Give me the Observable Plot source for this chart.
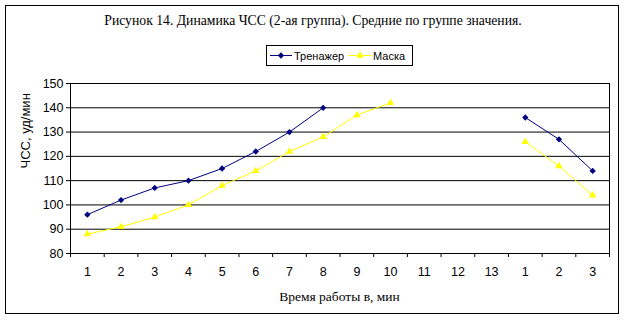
<!DOCTYPE html>
<html><head><meta charset="utf-8">
<script src="https://cdn.jsdelivr.net/npm/d3@7"></script>
<script src="https://cdn.jsdelivr.net/npm/@observablehq/plot@0.6"></script>
<style>
body{margin:0;background:#fff;}
#wrap{position:relative;width:624px;height:319px;overflow:hidden;background:#fff;}
#frame{position:absolute;left:5px;top:5px;width:614px;height:309px;border:1px solid #000;box-sizing:border-box;}
#title{position:absolute;left:0;top:13px;width:626px;text-align:center;font-family:"Liberation Serif","Times New Roman",serif;font-size:13.7px;color:#000;white-space:nowrap;}
#xlabel{position:absolute;left:70px;top:289px;width:539px;text-align:center;font-family:"Liberation Serif","Times New Roman",serif;font-size:13.5px;color:#000;white-space:nowrap;}
#legend{position:absolute;left:266px;top:45px;width:147px;height:21px;border:1px solid #000;box-sizing:border-box;background:#fff;}
#legend svg{position:absolute;left:0;top:0;}
#chart{position:absolute;left:0;top:0;}
</style>
</head><body>
<div id="wrap">
  <div id="frame"></div>
  <div id="chart"></div>
  <div id="title">Рисунок 14. Динамика ЧСС (2-ая группа). Средние по группе значения.</div>
  <div id="xlabel"></div>
  <div id="legend"></div>
</div>
<script>
// Category tick labels: 13 working minutes, then 3 recovery minutes
const xLabels = ["1","2","3","4","5","6","7","8","9","10","11","12","13","1","2","3"];
const workCount = 13;
const seriesNames = ["Тренажер", "Маска"];
const seriesColors = ["#000080", "#FFFF00"];
// Тренажер
const trenazherWork = [96, 102, 107, 110, 115, 122, 130, 140];
const trenazherRecovery = [136, 127, 114];
// Маска
const maskaWork = [88, 91, 95, 100, 108, 114, 122, 128, 137, 142];
const maskaRecovery = [126, 116, 104];
const yTicks = [80, 90, 100, 110, 120, 130, 140, 150];
const yLabel = "ЧСС, уд/мин";
const xLabel = "Время работы в, мин";

const rows = [];
function addRows(name, phase, values, offset) {
  values.forEach((v, i) => rows.push({series: name, seg: name + "-" + phase, x: offset + i + 1, y: v}));
}
addRows(seriesNames[0], "work", trenazherWork, 0);
addRows(seriesNames[0], "rec", trenazherRecovery, workCount);
addRows(seriesNames[1], "work", maskaWork, 0);
addRows(seriesNames[1], "rec", maskaRecovery, workCount);

const tr = rows.filter(d => d.series === seriesNames[0]);
const ma = rows.filter(d => d.series === seriesNames[1]);
const idx = d3.range(1, xLabels.length + 1);
const bounds = d3.range(0, xLabels.length + 1).map(i => i + 0.5);

const sans = "'Liberation Sans', Arial, sans-serif";

const chart = Plot.plot({
  width: 624,
  height: 319,
  marginTop: 83,
  marginBottom: 66,
  marginLeft: 70,
  marginRight: 15,
  style: {background: "transparent", color: "#000", overflow: "visible"},
  x: {type: "linear", domain: [0.5, xLabels.length + 0.5]},
  y: {type: "linear", domain: [80, 150]},
  marks: [
    Plot.ruleY(yTicks.filter(t => t > 80), {stroke: "#000", strokeWidth: 1}),
    Plot.ruleX([0.5, xLabels.length + 0.5], {stroke: "#000", strokeWidth: 1}),
    Plot.ruleY([80], {stroke: "#000", strokeWidth: 1}),
    Plot.axisY({ticks: yTicks, tickSize: 4, tickPadding: 3, fontSize: 12.5, fontFamily: sans, label: null, tickFormat: d => String(d)}),
    Plot.axisX({ticks: bounds, tickSize: 4, tickFormat: () => "", label: null}),
    Plot.axisX({ticks: idx, tickSize: 0, tickPadding: 14, fontSize: 12.5, fontFamily: sans, label: null, tickFormat: i => xLabels[i - 1]}),
    Plot.text([yLabel], {frameAnchor: "left", rotate: -90, dx: -45, fontSize: 13, fontFamily: sans, fill: "#000"}),
    Plot.line(ma, {x: "x", y: "y", z: "seg", stroke: seriesColors[1], strokeWidth: 1}),
    Plot.line(tr, {x: "x", y: "y", z: "seg", stroke: seriesColors[0], strokeWidth: 1}),
    Plot.dot(ma, {x: "x", y: "y", symbol: "triangle", r: 2.8, fill: seriesColors[1], stroke: "none"}),
    Plot.dot(tr, {x: "x", y: "y", symbol: "square", rotate: 45, r: 2.5, fill: seriesColors[0], stroke: "none"})
  ]
});
document.getElementById("chart").appendChild(chart);
document.getElementById("xlabel").textContent = xLabel;

// Legend
const lg = d3.create("svg").attr("width", 145).attr("height", 19);
const items = [{x0: 3, name: seriesNames[0], color: seriesColors[0], sym: d3.symbolSquare, rot: 45},
               {x0: 82, name: seriesNames[1], color: seriesColors[1], sym: d3.symbolTriangle, rot: 0}];
items.forEach(it => {
  lg.append("line").attr("x1", it.x0).attr("x2", it.x0 + 22).attr("y1", 9.5).attr("y2", 9.5).attr("stroke", it.color).attr("stroke-width", 1);
  lg.append("path").attr("d", d3.symbol(it.sym, Math.PI * (it.rot ? 2.5 * 2.5 : 2.8 * 2.8))()).attr("transform", `translate(${it.x0 + 11},9.5) rotate(${it.rot})`).attr("fill", it.color);
  lg.append("text").attr("x", it.x0 + 24).attr("y", 13.5).attr("font-family", sans).attr("font-size", 11).attr("fill", "#000").text(it.name);
});
document.getElementById("legend").appendChild(lg.node());
</script>
</body></html>
